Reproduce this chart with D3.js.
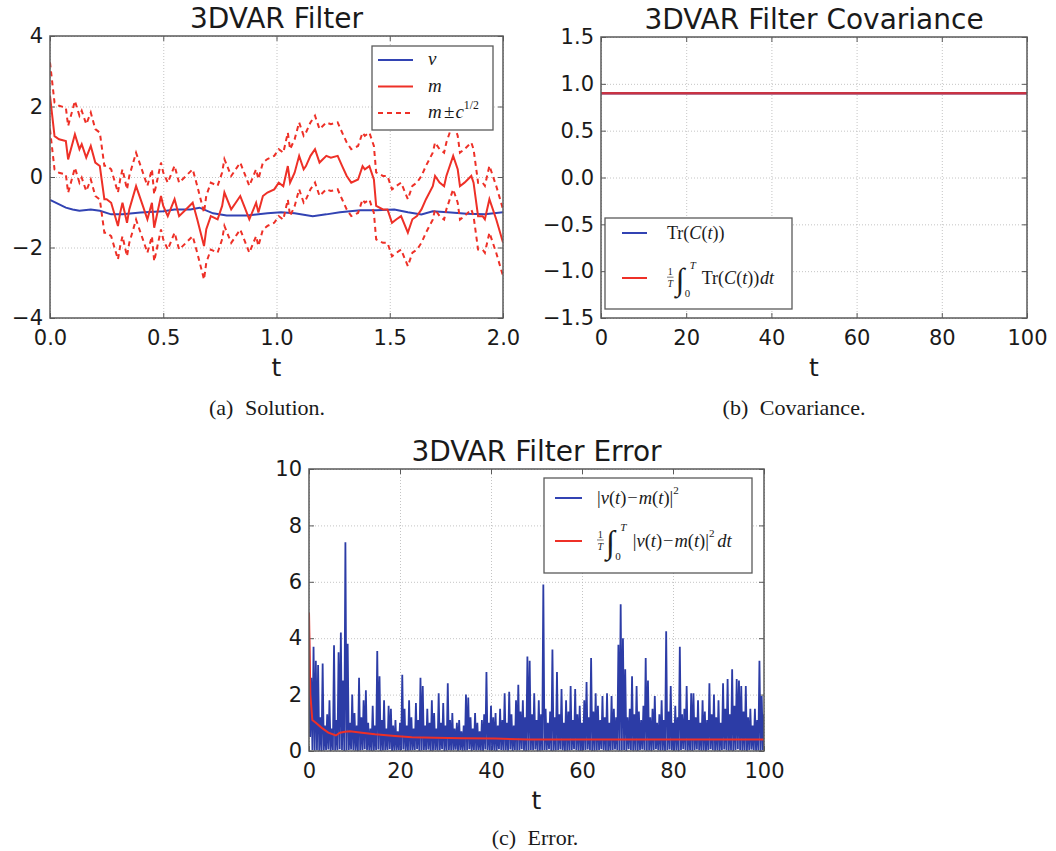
<!DOCTYPE html>
<html>
<head>
<meta charset="utf-8">
<script src="https://cdn.jsdelivr.net/npm/d3@7"></script>
<style>
body { margin: 0; background: #fff; }
svg text { font-family: "DejaVu Sans", sans-serif; fill: #1a1a1a; }
svg text.math { font-family: "Liberation Serif", serif; }
</style>
</head>
<body>
<svg id="fig" width="1056" height="851"></svg>
<script>
// ---- data ----
// (a) solution: filter mean m(t) and truth v(t)
var solT = [0, 0.02, 0.04, 0.07, 0.08, 0.10, 0.11, 0.13, 0.14, 0.16, 0.18, 0.20, 0.22, 0.24, 0.25, 0.27, 0.30, 0.31, 0.32, 0.34,
    0.35, 0.38, 0.41, 0.43, 0.45, 0.46, 0.49, 0.50, 0.52, 0.55, 0.57, 0.60, 0.63, 0.65, 0.68, 0.69, 0.71, 0.74, 0.76, 0.77,
    0.80, 0.82, 0.84, 0.86, 0.88, 0.91, 0.92, 0.94, 0.96, 0.99, 1.01, 1.03, 1.05, 1.06, 1.08, 1.10, 1.12, 1.13, 1.15, 1.17,
    1.19, 1.22, 1.24, 1.27, 1.29, 1.31, 1.33, 1.36, 1.38, 1.39, 1.41, 1.43, 1.44, 1.47, 1.49, 1.51, 1.53, 1.55, 1.58, 1.60,
    1.62, 1.64, 1.66, 1.69, 1.70, 1.72, 1.74, 1.75, 1.78, 1.80, 1.81, 1.83, 1.86, 1.87, 1.89, 1.91, 1.92, 1.94, 1.97, 2.00];
var solM = [2.30, 1.16, 1.07, 1.02, 0.50, 0.97, 1.21, 0.79, 0.93, 0.55, 0.88, 0.41, 0.31, -0.63, -0.63, -0.73, -1.39, -1.01, -0.73, -1.30,
    -0.92, -0.26, -0.82, -1.20, -0.73, -1.44, -0.54, -0.82, -1.11, -0.63, -1.11, -0.92, -0.73, -1.20, -1.96, -1.48, -1.11, -1.20, -0.82, -0.44,
    -0.92, -0.73, -0.54, -0.87, -1.20, -0.73, -1.01, -0.54, -0.44, -0.35, -0.16, -0.26, 0.31, -0.16, 0.12, 0.60, 0.22, 0.31, 0.60, 0.79,
    0.41, 0.60, 0.55, 0.60, 0.31, 0.03, -0.16, -0.07, 0.31, 0.22, 0.31, -0.07, -0.82, -0.92, -0.92, -1.30, -1.20, -1.11, -1.58, -1.20,
    -1.11, -0.92, -0.63, -0.26, 0.03, -0.16, -0.26, 0.03, 0.60, 0.22, -0.26, -0.16, 0.03, -0.16, -1.11, -1.11, -1.20, -0.63, -1.20, -1.86];
var truthT = [0, 0.07, 0.10, 0.13, 0.18, 0.22, 0.27, 0.32, 0.40, 0.50, 0.55, 0.62, 0.66, 0.72, 0.78, 0.87,
    0.96, 1.02, 1.08, 1.16, 1.22, 1.28, 1.37, 1.44, 1.52, 1.58, 1.64, 1.69, 1.77, 1.84, 1.92, 2.00];
var truthV = [-0.65, -0.87, -0.92, -0.96, -0.92, -0.96, -1.06, -1.06, -1.01, -0.97, -0.92, -0.92, -0.87, -1.03, -1.09, -1.09,
    -1.03, -1.00, -1.03, -1.11, -1.06, -1.00, -0.94, -0.94, -0.92, -1.00, -1.06, -0.97, -1.01, -1.04, -1.06, -1.00];

// (b) covariance
var covT = [0, 100];
var covTrace = [0.9, 0.9];
var covMean = [0.9, 0.9];
var covValue = 0.9; // c used for the m +/- c^(1/2) band in (a)

// (c) error, one value every errDt
var errDt = 0.25;
var errSq = [
    4.6, 0.5, 2.6, 0.04, 3.7, 0.02, 3.2, 0.03,
    3.05, 0.01, 1.2, 0.0, 3.1, 0.02, 0.9, 0.04,
    1.3, 0.05, 1.8, 0.0, 0.8, 0.04, 3.75, 0.02,
    1.1, 0.03, 3.5, 0.06, 4.2, 0.04, 2.5, 0.0,
    7.4, 0.02, 3.8, 0.04, 1.0, 0.05, 2.0, 0.03,
    1.35, 0.01, 0.9, 0.0, 2.6, 0.02, 1.2, 0.04,
    1.8, 0.06, 2.15, 0.03, 1.0, 0.02, 0.8, 0.0,
    1.6, 0.01, 0.9, 0.04, 3.55, 0.05, 2.65, 0.0,
    1.1, 0.02, 1.8, 0.03, 0.8, 0.04, 1.6, 0.06,
    1.5, 0.0, 0.9, 0.01, 1.1, 0.02, 0.7, 0.03,
    1.0, 0.04, 2.7, 0.05, 1.5, 0.0, 0.9, 0.01,
    1.8, 0.02, 1.2, 0.03, 0.8, 0.04, 1.7, 0.06,
    1.1, 0.0, 2.6, 0.02, 2.3, 0.04, 0.9, 0.03,
    1.5, 0.05, 1.0, 0.0, 1.8, 0.01, 1.35, 0.04,
    0.8, 0.02, 2.05, 0.03, 1.0, 0.06, 1.7, 0.0,
    0.9, 0.01, 2.4, 0.04, 1.1, 0.02, 1.35, 0.03,
    0.8, 0.05, 1.0, 0.0, 1.1, 0.04, 0.7, 0.01,
    0.9, 0.02, 2.0, 0.03, 1.9, 0.06, 1.2, 0.0,
    0.8, 0.04, 1.35, 0.02, 1.0, 0.03, 0.7, 0.01,
    1.1, 0.0, 1.3, 0.05, 2.8, 0.04, 1.0, 0.02,
    1.6, 0.03, 1.2, 0.01, 1.35, 0.0, 0.9, 0.06,
    1.5, 0.04, 1.1, 0.02, 2.05, 0.03, 1.0, 0.01,
    2.1, 0.05, 1.3, 0.0, 0.9, 0.04, 1.8, 0.02,
    2.35, 0.03, 1.4, 0.06, 1.8, 0.01, 1.2, 0.0,
    3.35, 0.02, 3.2, 0.04, 1.3, 0.03, 2.05, 0.05,
    1.1, 0.0, 1.8, 0.01, 1.3, 0.02, 5.9, 0.04,
    1.5, 0.03, 1.0, 0.06, 1.4, 0.0, 3.6, 0.01,
    1.2, 0.02, 2.8, 0.04, 1.3, 0.05, 2.2, 0.03,
    1.0, 0.0, 1.8, 0.01, 1.4, 0.02, 2.3, 0.04,
    1.1, 0.06, 2.2, 0.03, 1.3, 0.01, 1.6, 0.0,
    1.0, 0.02, 1.8, 0.04, 2.45, 0.05, 1.2, 0.03,
    3.3, 0.0, 1.4, 0.01, 2.05, 0.02, 1.6, 0.04,
    1.1, 0.06, 1.95, 0.03, 1.2, 0.01, 2.05, 0.0,
    1.0, 0.02, 1.95, 0.04, 1.5, 0.05, 1.2, 0.03,
    3.77, 0.01, 5.2, 0.02, 4.0, 0.04, 2.9, 0.0,
    1.2, 0.06, 1.5, 0.03, 2.65, 0.01, 1.3, 0.02,
    2.3, 0.0, 1.4, 0.04, 1.1, 0.05, 1.6, 0.03,
    3.3, 0.01, 2.5, 0.02, 1.2, 0.0, 1.5, 0.04,
    1.95, 0.06, 1.0, 0.03, 1.3, 0.01, 1.8, 0.02,
    1.1, 0.0, 4.25, 0.04, 1.4, 0.05, 2.3, 0.03,
    1.0, 0.01, 1.6, 0.02, 1.2, 0.0, 3.7, 0.04,
    1.3, 0.06, 1.5, 0.03, 2.3, 0.01, 1.1, 0.02,
    2.05, 0.0, 2.05, 0.04, 1.2, 0.05, 1.8, 0.03,
    1.0, 0.01, 1.8, 0.02, 1.4, 0.0, 1.1, 0.04,
    2.4, 0.06, 1.3, 0.03, 2.0, 0.01, 1.2, 0.02,
    1.8, 0.0, 1.0, 0.04, 2.4, 0.05, 1.5, 0.03,
    2.55, 0.01, 1.3, 0.02, 2.9, 0.0, 1.6, 0.04,
    2.55, 0.06, 2.5, 0.03, 2.3, 0.01, 1.4, 0.02,
    2.3, 0.0, 1.2, 0.04, 1.5, 0.05, 0.9, 0.03,
    1.5, 0.01, 1.1, 0.02, 3.2, 0.0, 1.95, 0.04,
    1.3
];
var errMeanT = [0, 0.3, 0.73, 1.5, 2.8, 4.25, 5.9, 6.8, 7.9, 9.0, 11.6, 14.5, 18.9, 22.6, 27.7, 33.6, 40.9, 48.3, 60, 80, 100];
var errMean = [4.9, 2.0, 1.1, 1.0, 0.82, 0.65, 0.55, 0.65, 0.68, 0.70, 0.65, 0.59, 0.53, 0.49, 0.47, 0.45, 0.44, 0.41, 0.41, 0.41, 0.41];

// ticks
var solXTicks = [0, 0.5, 1, 1.5, 2];
var solYTicks = [-4, -2, 0, 2, 4];
var covXTicks = [0, 20, 40, 60, 80, 100];
var covYTicks = [-1.5, -1, -0.5, 0, 0.5, 1, 1.5];
var errXTicks = [0, 20, 40, 60, 80, 100];
var errYTicks = [0, 2, 4, 6, 8, 10];

var blue = "#3243b3";
var red = "#ee3027";
var svg = d3.select("#fig");

function makePanel(p) {
    let x = d3.scaleLinear().domain(p.xDomain).range([p.left, p.right]);
    let y = d3.scaleLinear().domain(p.yDomain).range([p.bottom, p.top]);
    let g = svg.append("g").attr("class", p.id);
    let h = p.bottom - p.top, w = p.right - p.left;

    // dotted grid
    g.append("g").attr("transform", `translate(0,${p.bottom})`)
        .call(d3.axisBottom(x).tickValues(p.xTicks).tickSize(-h).tickFormat(""))
        .call(gridStyle);
    g.append("g").attr("transform", `translate(${p.left},0)`)
        .call(d3.axisLeft(y).tickValues(p.yTicks).tickSize(-w).tickFormat(""))
        .call(gridStyle);

    // inner tick marks on all four sides
    g.append("g").attr("transform", `translate(0,${p.bottom})`)
        .call(d3.axisBottom(x).tickValues(p.xTicks).tickSize(-5).tickFormat("")).call(tickStyle);
    g.append("g").attr("transform", `translate(0,${p.top})`)
        .call(d3.axisTop(x).tickValues(p.xTicks).tickSize(-5).tickFormat("")).call(tickStyle);
    g.append("g").attr("transform", `translate(${p.left},0)`)
        .call(d3.axisLeft(y).tickValues(p.yTicks).tickSize(-5).tickFormat("")).call(tickStyle);
    g.append("g").attr("transform", `translate(${p.right},0)`)
        .call(d3.axisRight(y).tickValues(p.yTicks).tickSize(-5).tickFormat("")).call(tickStyle);

    // tick labels
    g.append("g").attr("transform", `translate(0,${p.bottom})`)
        .call(d3.axisBottom(x).tickValues(p.xTicks).tickSize(0).tickPadding(12).tickFormat(d3.format(p.xFmt)))
        .call(labelStyle);
    g.append("g").attr("transform", `translate(${p.left},0)`)
        .call(d3.axisLeft(y).tickValues(p.yTicks).tickSize(0).tickPadding(7).tickFormat(d3.format(p.yFmt)))
        .call(labelStyle);

    g.append("text")
        .attr("x", (p.left + p.right) / 2).attr("y", p.top - 8)
        .attr("text-anchor", "middle").style("font-size", "28px")
        .text(p.title);
    g.append("text")
        .attr("x", (p.left + p.right) / 2).attr("y", p.bottom + 58)
        .attr("text-anchor", "middle").style("font-size", "25px")
        .text("t");
    g.append("text").attr("class", "math")
        .attr("x", p.capX).attr("y", p.capY)
        .attr("text-anchor", "middle").style("font-size", "22px")
        .style("word-spacing", "6px").attr("fill", "#222")
        .text(p.caption);

    g.append("clipPath").attr("id", "clip-" + p.id)
        .append("rect").attr("x", p.left).attr("y", p.top).attr("width", w).attr("height", h);
    let plot = g.append("g").attr("clip-path", `url(#clip-${p.id})`);
    return {g: g, plot: plot, x: x, y: y, p: p};
}

function drawFrame(panel) {
    let p = panel.p;
    panel.g.append("rect")
        .attr("x", p.left).attr("y", p.top)
        .attr("width", p.right - p.left).attr("height", p.bottom - p.top)
        .attr("fill", "none").attr("stroke", "#5a5a5a").attr("stroke-width", 1.5);
}

function gridStyle(sel) {
    sel.select(".domain").remove();
    sel.selectAll(".tick line").attr("stroke", "#b5b5b5").attr("stroke-width", 0.8).attr("stroke-dasharray", "1,2");
}

function tickStyle(sel) {
    sel.select(".domain").remove();
    sel.selectAll(".tick line").attr("stroke", "#5a5a5a").attr("stroke-width", 1);
}

function labelStyle(sel) {
    sel.select(".domain").remove();
    sel.selectAll(".tick text").attr("fill", "#1a1a1a")
        .style("font-family", "'DejaVu Sans', sans-serif").style("font-size", "21px");
}

// small helper for typeset-like legend labels
function mathText(g, x, y, parts, size) {
    let cx = x;
    parts.forEach(function(p) {
        if (p.frac) {
            let s = size * 0.55;
            let top = g.append("text").attr("class", "math").attr("y", y - size * 0.5)
                .style("font-size", s + "px").text(p.frac[0]);
            let bot = g.append("text").attr("class", "math").attr("y", y + size * 0.15)
                .style("font-size", s + "px").style("font-style", "italic").text(p.frac[1]);
            let wt = top.node().getComputedTextLength(), wb = bot.node().getComputedTextLength();
            let w = Math.max(wt, wb) + 1;
            top.attr("x", cx + (w - wt) / 2);
            bot.attr("x", cx + (w - wb) / 2);
            g.append("line").attr("x1", cx).attr("x2", cx + w)
                .attr("y1", y - size * 0.38).attr("y2", y - size * 0.38)
                .attr("stroke", "#1a1a1a").attr("stroke-width", 0.6);
            cx += w + size * 0.12;
        } else if (p.integral) {
            g.append("text").attr("class", "math").attr("x", cx).attr("y", y + size * 0.32)
                .style("font-size", (size * 1.75) + "px").style("font-style", "italic").text("∫");
            g.append("text").attr("class", "math").attr("x", cx + size * 0.78).attr("y", y - size * 0.85)
                .style("font-size", (size * 0.6) + "px").style("font-style", "italic").text("T");
            g.append("text").attr("class", "math").attr("x", cx + size * 0.5).attr("y", y + size * 0.72)
                .style("font-size", (size * 0.6) + "px").text("0");
            cx += size * 1.45;
        } else {
            let s = size * (p.scale || 1);
            let t = g.append("text").attr("class", "math").attr("x", cx)
                .attr("y", y - (p.raise || 0) * size)
                .style("font-size", s + "px").style("font-style", p.it ? "italic" : "normal")
                .text(p.t);
            cx += t.node().getComputedTextLength() + (p.gap || 0) * size;
        }
    });
}

function legendBox(g, x0, y0, x1, y1) {
    g.append("rect").attr("x", x0).attr("y", y0).attr("width", x1 - x0).attr("height", y1 - y0)
        .attr("fill", "#fff").attr("stroke", "#5a5a5a").attr("stroke-width", 1.3);
}

function legendLine(g, x0, x1, y, color, dash) {
    g.append("line").attr("x1", x0).attr("x2", x1).attr("y1", y).attr("y2", y)
        .attr("stroke", color).attr("stroke-width", 2)
        .attr("stroke-dasharray", dash || null);
}

function generateSolution() {
    let panel = makePanel({
        id: "sol", left: 50, right: 503, top: 36, bottom: 318,
        xDomain: [0, 2], yDomain: [-4, 4], xTicks: solXTicks, yTicks: solYTicks,
        xFmt: ".1f", yFmt: "d", title: "3DVAR Filter", caption: "(a) Solution.",
        capX: 267, capY: 415
    });
    let x = panel.x, y = panel.y;
    let sd = Math.sqrt(covValue);
    let mPts = solT.map(function(t, i) { return [t, solM[i]]; });
    let line = d3.line().x(function(d) { return x(d[0]); }).y(function(d) { return y(d[1]); });

    panel.plot.append("path").datum(truthT.map(function(t, i) { return [t, truthV[i]]; }))
        .attr("d", line).attr("fill", "none").attr("stroke", blue).attr("stroke-width", 2);
    panel.plot.append("path").datum(mPts)
        .attr("d", line).attr("fill", "none").attr("stroke", red).attr("stroke-width", 2);
    [sd, -sd].forEach(function(off) {
        panel.plot.append("path").datum(mPts.map(function(d) { return [d[0], d[1] + off]; }))
            .attr("d", line).attr("fill", "none").attr("stroke", red).attr("stroke-width", 2)
            .attr("stroke-dasharray", "5,4");
    });
    drawFrame(panel);

    let lg = panel.g.append("g");
    legendBox(lg, 372, 46, 493, 130);
    legendLine(lg, 378, 413, 60, blue);
    legendLine(lg, 378, 413, 86.5, red);
    legendLine(lg, 378, 413, 113, red, "5,4");
    mathText(lg, 428, 65, [{t: "v", it: true}], 19);
    mathText(lg, 428, 91.5, [{t: "m", it: true}], 19);
    mathText(lg, 428, 118, [{t: "m", it: true, gap: 0.12}, {t: "±", gap: 0.05}, {t: "c", it: true},
        {t: "1/2", scale: 0.62, raise: 0.48}], 19);
}

function generateCovariance() {
    let panel = makePanel({
        id: "cov", left: 601, right: 1027, top: 37, bottom: 318,
        xDomain: [0, 100], yDomain: [-1.5, 1.5], xTicks: covXTicks, yTicks: covYTicks,
        xFmt: "d", yFmt: ".1f", title: "3DVAR Filter Covariance", caption: "(b) Covariance.",
        capX: 794, capY: 415
    });
    let x = panel.x, y = panel.y;
    let line = d3.line().x(function(d) { return x(d[0]); }).y(function(d) { return y(d[1]); });
    panel.plot.append("path").datum(covT.map(function(t, i) { return [t, covTrace[i]]; }))
        .attr("d", line).attr("fill", "none").attr("stroke", blue).attr("stroke-width", 2.6);
    panel.plot.append("path").datum(covT.map(function(t, i) { return [t, covMean[i]]; }))
        .attr("d", line).attr("fill", "none").attr("stroke", red).attr("stroke-width", 2.6)
        .attr("stroke-opacity", 0.8);
    drawFrame(panel);

    let lg = panel.g.append("g");
    legendBox(lg, 605, 218, 792, 309);
    legendLine(lg, 622, 647, 233, blue);
    legendLine(lg, 622, 647, 278, red);
    mathText(lg, 667, 239, [{t: "Tr("}, {t: "C", it: true}, {t: "("}, {t: "t", it: true}, {t: "))"}], 18);
    mathText(lg, 667, 284, [{frac: ["1", "T"]}, {integral: true}, {t: "Tr("}, {t: "C", it: true}, {t: "("},
        {t: "t", it: true}, {t: "))", gap: 0.05}, {t: "dt", it: true}], 18);
}

function generateError() {
    let panel = makePanel({
        id: "err", left: 309, right: 764, top: 469, bottom: 751,
        xDomain: [0, 100], yDomain: [0, 10], xTicks: errXTicks, yTicks: errYTicks,
        xFmt: "d", yFmt: "d", title: "3DVAR Filter Error", caption: "(c) Error.",
        capX: 535, capY: 845
    });
    let x = panel.x, y = panel.y;
    let line = d3.line().x(function(d) { return x(d[0]); }).y(function(d) { return y(d[1]); });
    panel.plot.append("path").datum(errSq.map(function(v, i) { return [i * errDt, v]; }))
        .attr("d", line).attr("fill", "none").attr("stroke", "#2c3ca6").attr("stroke-width", 1.8);
    panel.plot.append("path").datum(errMeanT.map(function(t, i) { return [t, errMean[i]]; }))
        .attr("d", line).attr("fill", "none").attr("stroke", red).attr("stroke-width", 2);
    drawFrame(panel);

    let lg = panel.g.append("g");
    legendBox(lg, 544, 478, 752, 573);
    legendLine(lg, 555, 582, 498, blue);
    legendLine(lg, 555, 582, 541, red);
    let absParts = [{t: "|"}, {t: "v", it: true}, {t: "("}, {t: "t", it: true}, {t: ")", gap: 0.05}, {t: "−", gap: 0.05},
        {t: "m", it: true}, {t: "("}, {t: "t", it: true}, {t: ")|"}];
    mathText(lg, 597, 504, absParts.concat([{t: "2", scale: 0.6, raise: 0.55}]), 18.5);
    mathText(lg, 597, 547, [{frac: ["1", "T"]}, {integral: true}].concat(absParts)
        .concat([{t: "2", scale: 0.6, raise: 0.55, gap: 0.15}, {t: "dt", it: true}]), 18.5);
}

generateSolution();
generateCovariance();
generateError();
</script>
</body>
</html>
